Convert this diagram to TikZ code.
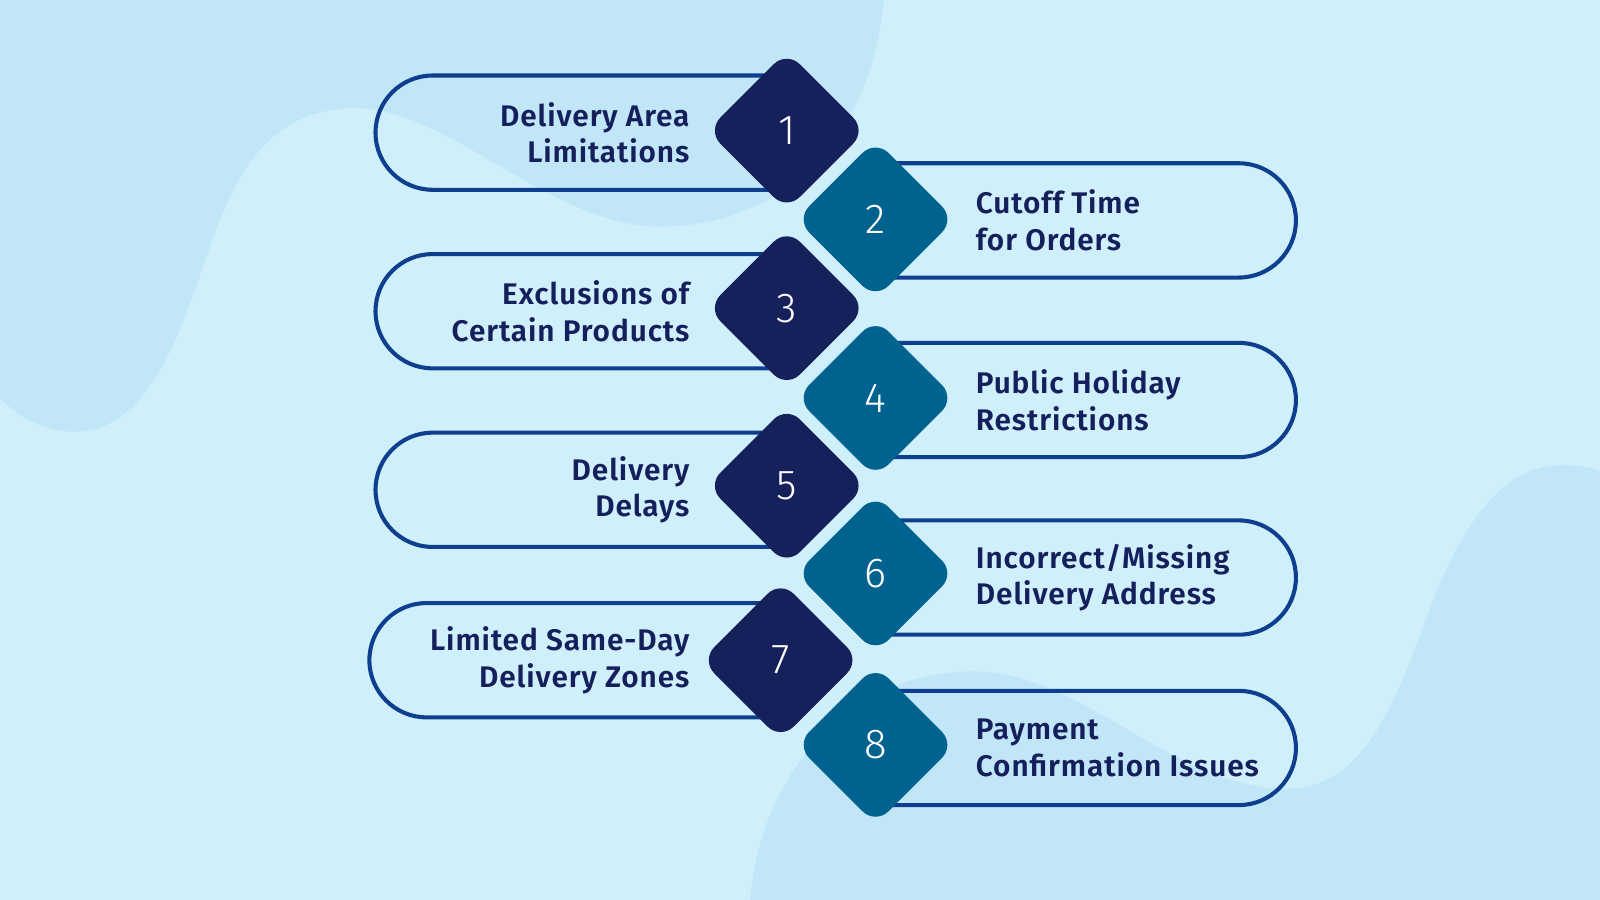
\documentclass[tikz,border=0pt]{standalone}
\usepackage{fontspec}
\usetikzlibrary{shapes.geometric}
\newfontfamily\itemfont{Fira Sans SemiBold}[LetterSpace=3]
\newfontfamily\numfont{Fira Sans Light}
\definecolor{bgcol}{HTML}{CFEFFB}
\definecolor{blobcol}{HTML}{C0E6F8}
\definecolor{badgenavy}{HTML}{16215C}
\definecolor{badgeteal}{HTML}{00638F}
\definecolor{linecol}{HTML}{0E3F8E}
\definecolor{textcol}{HTML}{141F5C}

\begin{document}
\begin{tikzpicture}[x=0.5pt, y=-0.5pt,
    pill/.style={draw=linecol, line width=2pt, rounded corners=28pt},
    badge/.style={diamond, aspect=1, minimum size=78pt, inner sep=0pt, rounded corners=9pt,
      text=white, font=\numfont\fontsize{20.5pt}{24pt}\selectfont},
    item/.style={text=textcol, font=\itemfont\fontsize{14.6pt}{18pt}\selectfont, inner sep=0pt}]
    \useasboundingbox (0,0) rectangle (1568,882);
    \fill[bgcol] (0,0) rectangle (1568,882);

    \fill[blobcol] (0,0) -- (866,0) .. controls (855,130) and (770,222) .. (647,222)
      .. controls (540,222) and (440,106) .. (349,106)
      .. controls (270,106) and (235,160) .. (208,235)
      .. controls (180,315) and (150,423) .. (73,423)
      .. controls (35,423) and (10,400) .. (0,390) -- cycle;
    \fill[blobcol] (735,882) .. controls (745,760) and (830,658) .. (954,658)
      .. controls (1060,658) and (1150,773) .. (1261,773)
      .. controls (1340,773) and (1370,680) .. (1400,600)
      .. controls (1430,520) and (1470,456) .. (1529,456)
      .. controls (1550,456) and (1560,458) .. (1568,462) -- (1568,882) -- cycle;

    \foreach \n/\xl/\yc/\xd/\yd/\txt in {1/368/130/771/128/{Delivery Area\\Limitations},
        3/368/305/771/302/{Exclusions of\\Certain Products},
        5/368/480/771/476/{Delivery\\Delays},
        7/362/647/765/647/{Limited Same-Day\\Delivery Zones}}{
      \draw[pill] (\xd,\yc-56) -- (\xl,\yc-56) -- (\xl,\yc+56) -- (\xd,\yc+56);
      \node[badge, fill=badgenavy] (d\n) at (\xd,\yd) {\n};
      \node[item, align=right, anchor=east] (t\n) at (676,\yc) {\txt};
    }

    \foreach \n/\yc/\yd/\txt in {2/216/215/{Cutoff Time\\for Orders},
        4/392/390/{Public Holiday\\Restrictions},
        6/566/562/{Incorrect/Missing\\Delivery Address},
        8/733/730/{Payment\\Confirmation Issues}}{
      \draw[pill] (858,\yc-56) -- (1270,\yc-56) -- (1270,\yc+56) -- (858,\yc+56);
      \node[badge, fill=badgeteal] (d\n) at (858,\yd) {\n};
      \node[item, align=left, anchor=west] (t\n) at (956,\yc) {\txt};
    }
  \end{tikzpicture}
\end{document}
